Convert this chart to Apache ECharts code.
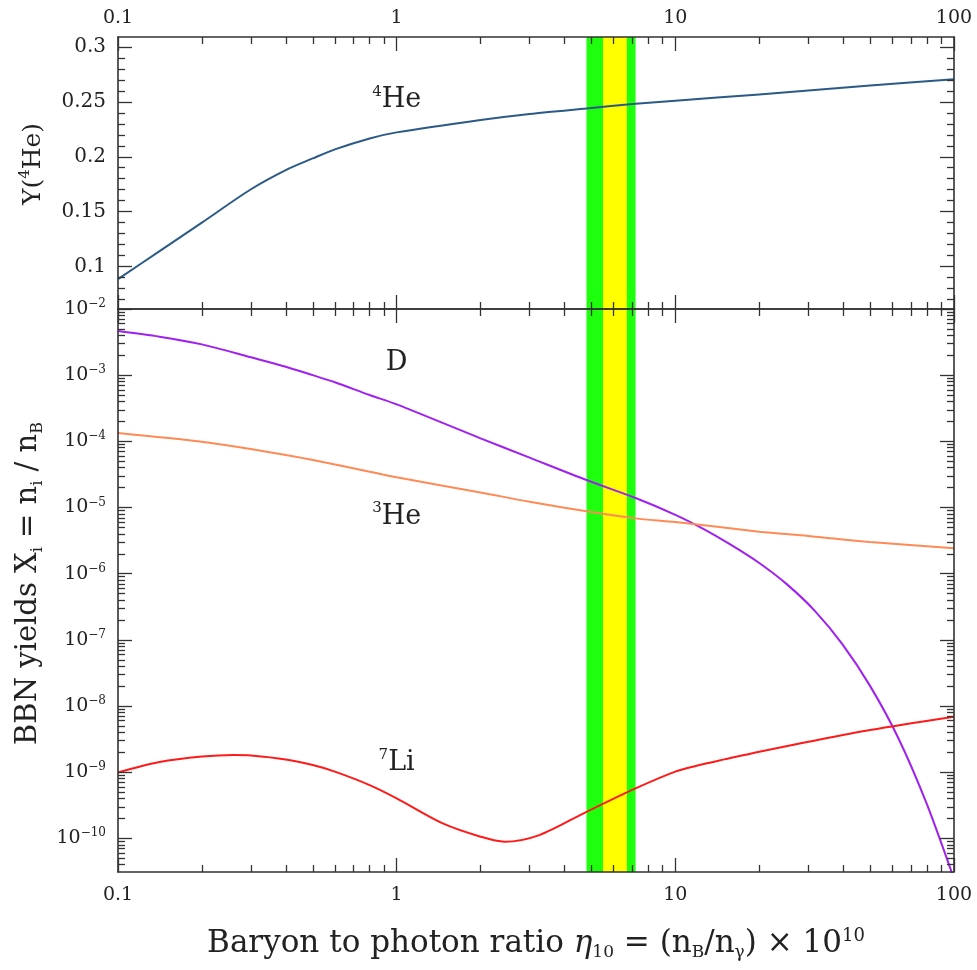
<!DOCTYPE html>
<html><head><meta charset="utf-8">
<script src="https://cdn.jsdelivr.net/npm/echarts@6/dist/echarts.min.js"></script>
<style>html,body{margin:0;padding:0;background:#fff}#c{width:977px;height:970px}</style>
</head><body><div id="c"></div>
<script>
// ---- data ----
const xTickLabels = [0.1, 1, 10, 100];
const he4TickLabels = [0.1, 0.15, 0.2, 0.25, 0.3];
const yieldTickLabels = [1e-2, 1e-3, 1e-4, 1e-5, 1e-6, 1e-7, 1e-8, 1e-9, 1e-10];

const he4X = [0.1, 0.141, 0.2, 0.3, 0.4, 0.5, 0.6, 0.8, 1, 2, 3, 4.8, 7.2, 10, 20, 30, 50, 100];
const he4Y = [0.0885, 0.1140, 0.1400, 0.1704, 0.1879, 0.1985, 0.2067, 0.2167, 0.2222, 0.2335, 0.2390, 0.2440, 0.2482, 0.2510, 0.2568, 0.2604, 0.2649, 0.2706];

const dX = [0.1, 0.141, 0.2, 0.3, 0.4, 0.5, 0.6, 0.8, 1, 2, 3, 4.8, 7.2, 10, 12.6, 15.8, 20, 25.1, 31.6, 39.8, 50.1, 63.1, 79.4, 100];
const dY = [4.65e-3, 3.82e-3, 2.92e-3, 1.86e-3, 1.34e-3, 1.00e-3, 7.80e-4, 5.01e-4, 3.62e-4, 1.11e-4, 5.66e-5, 2.60e-5, 1.39e-5, 7.76e-6, 4.76e-6, 2.74e-6, 1.45e-6, 6.95e-7, 2.77e-7, 8.55e-8, 1.98e-8, 3.29e-9, 3.52e-10, 2.44e-11];

const he3X = [0.1, 0.2, 0.3, 0.4, 0.5, 0.8, 1, 2, 3, 4.8, 7.2, 10, 20, 30, 50, 100];
const he3Y = [1.34e-4, 9.89e-5, 7.66e-5, 6.21e-5, 5.22e-5, 3.48e-5, 2.86e-5, 1.69e-5, 1.22e-5, 8.75e-6, 6.85e-6, 6.04e-6, 4.31e-6, 3.71e-6, 3.01e-6, 2.42e-6];

const li7X = [0.1, 0.141, 0.2, 0.26, 0.3, 0.4, 0.5, 0.6, 0.8, 1, 1.464, 2, 2.44, 3.25, 4.8, 7.2, 10, 12.2, 15, 20, 30, 50, 100];
const li7Y = [0.99e-9, 1.42e-9, 1.72e-9, 1.82e-9, 1.79e-9, 1.56e-9, 1.28e-9, 1.02e-9, 6.38e-10, 4.02e-10, 1.68e-10, 1.06e-10, 8.9e-11, 1.12e-10, 2.52e-10, 5.69e-10, 1.02e-9, 1.28e-9, 1.56e-9, 2.04e-9, 2.88e-9, 4.34e-9, 6.89e-9];

const bandOuter = [4.8, 7.2];
const bandInner = [5.5, 6.7];

// ---- styling / helpers ----
const FONT = 'DejaVu Serif';
const AX = '#333333';
const TXT = '#222222';

function zip(xs, ys) { return xs.map((x, i) => [x, ys[i]]); }
function minorLog(lo, hi) {
  const out = [];
  for (let e = Math.floor(Math.log10(lo)) - 1; e <= Math.ceil(Math.log10(hi)); e++) {
    for (let k = 2; k <= 9; k++) {
      const v = k * Math.pow(10, e);
      if (v > lo * 1.0001 && v < hi * 0.9999) out.push(v);
    }
  }
  return out;
}
function minorLin(lo, hi, step, majors) {
  const out = [];
  for (let v = Math.ceil(lo / step) * step; v <= hi + 1e-9; v += step) {
    const r = Math.round(v * 1000) / 1000;
    if (!majors.some(m => Math.abs(m - r) < 1e-6)) out.push(r);
  }
  return out;
}

const X_MIN = 0.1, X_MAX = 100;
const HE_MIN = 0.0613, HE_MAX = 0.3091;
const Y_MIN = 3.1e-11, Y_MAX = 1e-2;

const xMinor = minorLog(X_MIN, X_MAX);
const heMinor = minorLin(HE_MIN, HE_MAX, 0.01, he4TickLabels);
const yMinor = minorLog(Y_MIN, Y_MAX);

const supRich = {
  b: { fontFamily: FONT, fontSize: 19, color: TXT, lineHeight: 22 },
  s: { fontFamily: FONT, fontSize: 12, color: TXT, lineHeight: 12, verticalAlign: 'top' }
};

function mkAxis(grid, pos, type, min, max, ticks, len, o) {
  o = o || {};
  const a = {
    type: type, gridIndex: grid, position: pos, min: min, max: max, z: 5,
    silent: true,
    axisLine: { show: !!o.line, onZero: false, lineStyle: { color: AX, width: 1.6 } },
    axisTick: { show: true, inside: true, length: len, customValues: ticks, lineStyle: { color: AX, width: 1.3 } },
    axisLabel: { show: false },
    splitLine: { show: false },
    minorTick: { show: false },
    minorSplitLine: { show: false }
  };
  if (type === 'log') a.logBase = 10;
  if (o.labels) {
    a.axisLabel = Object.assign({
      show: true, customValues: o.labels, margin: o.margin || 10,
      fontFamily: FONT, fontSize: 19, color: TXT, showMinLabel: true, showMaxLabel: true,
      hideOverlap: false
    }, o.labelExtra || {});
  }
  if (o.name) Object.assign(a, o.name);
  return a;
}

const xFmt = v => (v < 1 ? String(Math.round(v * 10) / 10) : String(Math.round(v)));
const expFmt = v => '{b|10}{s|\u2212' + Math.round(-Math.log10(v)) + '}';

const xAxes = [
  // grid 0 (top panel)
  mkAxis(0, 'bottom', 'log', X_MIN, X_MAX, xTickLabels, 14, { line: true }),
  mkAxis(0, 'bottom', 'log', X_MIN, X_MAX, xMinor, 7, {}),
  mkAxis(0, 'top', 'log', X_MIN, X_MAX, xTickLabels, 14, { line: true, labels: xTickLabels, margin: 9, labelExtra: { formatter: xFmt } }),
  mkAxis(0, 'top', 'log', X_MIN, X_MAX, xMinor, 7, {}),
  // grid 1 (bottom panel)
  mkAxis(1, 'bottom', 'log', X_MIN, X_MAX, xTickLabels, 14, {
    line: true, labels: xTickLabels, margin: 14, labelExtra: { formatter: xFmt },
    name: {
      name: '{a|Baryon to photon ratio }{g|\u03b7}{b|10}{a| = (n}{b|B}{a|/n}{b|\u03b3}{a|) \u00d7 10}{s|10}',
      nameLocation: 'middle', nameGap: 55,
      nameTextStyle: {
        rich: {
          a: { fontFamily: FONT, fontSize: 31, color: TXT, lineHeight: 34 },
          g: { fontFamily: FONT, fontSize: 31, fontStyle: 'italic', color: TXT, lineHeight: 34 },
          b: { fontFamily: FONT, fontSize: 17, color: TXT, lineHeight: 20, verticalAlign: 'bottom' },
          s: { fontFamily: FONT, fontSize: 18, color: TXT, lineHeight: 20, verticalAlign: 'top' }
        }
      }
    }
  }),
  mkAxis(1, 'bottom', 'log', X_MIN, X_MAX, xMinor, 7, {}),
  mkAxis(1, 'top', 'log', X_MIN, X_MAX, xTickLabels, 14, { line: true }),
  mkAxis(1, 'top', 'log', X_MIN, X_MAX, xMinor, 7, {})
];

const yAxes = [
  // grid 0
  mkAxis(0, 'left', 'value', HE_MIN, HE_MAX, he4TickLabels, 14, {
    line: true, labels: he4TickLabels, margin: 12, labelExtra: { fontSize: 20 },
    name: {
      name: '{a|Y(}{s|4}{a|He)}',
      nameLocation: 'middle', nameGap: 70,
      nameTextStyle: {
        padding: [0, 0, 0, 18],
        rich: {
          a: { fontFamily: FONT, fontSize: 25, color: TXT, lineHeight: 30 },
          s: { fontFamily: FONT, fontSize: 15, color: TXT, lineHeight: 18, verticalAlign: 'top' }
        }
      }
    }
  }),
  mkAxis(0, 'left', 'value', HE_MIN, HE_MAX, heMinor, 7, {}),
  mkAxis(0, 'right', 'value', HE_MIN, HE_MAX, he4TickLabels, 14, { line: true }),
  mkAxis(0, 'right', 'value', HE_MIN, HE_MAX, heMinor, 7, {}),
  // grid 1
  mkAxis(1, 'left', 'log', Y_MIN, Y_MAX, yieldTickLabels, 14, {
    line: true, labels: yieldTickLabels, margin: 12,
    labelExtra: { formatter: expFmt, rich: supRich },
    name: {
      name: '{a|BBN yields X}{b|i}{a| = n}{b|i}{a| / n}{b|B}',
      nameLocation: 'middle', nameGap: 70,
      nameTextStyle: {
        padding: [0, 0, 0, 14],
        rich: {
          a: { fontFamily: FONT, fontSize: 29, color: TXT, lineHeight: 34 },
          b: { fontFamily: FONT, fontSize: 16, color: TXT, lineHeight: 20, verticalAlign: 'bottom' }
        }
      }
    }
  }),
  mkAxis(1, 'left', 'log', Y_MIN, Y_MAX, yMinor, 7, {}),
  mkAxis(1, 'right', 'log', Y_MIN, Y_MAX, yieldTickLabels, 14, { line: true }),
  mkAxis(1, 'right', 'log', Y_MIN, Y_MAX, yMinor, 7, {})
];

function band(outer, inner) {
  return {
    silent: true,
    label: { show: false },
    data: [
      [{ xAxis: outer[0], itemStyle: { color: '#1eff0e', opacity: 1 } }, { xAxis: outer[1] }],
      [{ xAxis: inner[0], itemStyle: { color: '#ffff00', opacity: 1 } }, { xAxis: inner[1] }]
    ]
  };
}

function annot(coord, text, rich) {
  return {
    silent: true,
    symbol: 'rect', symbolSize: 1,
    itemStyle: { color: 'rgba(0,0,0,0)' },
    label: { show: true, position: 'inside', formatter: text, rich: rich },
    data: [{ coord: coord, value: 0 }]
  };
}
const annRich = {
  a: { fontFamily: FONT, fontSize: 27, color: TXT, lineHeight: 32 },
  s: { fontFamily: FONT, fontSize: 15, color: TXT, lineHeight: 18, verticalAlign: 'top' }
};

function lineSeries(name, xi, yi, xs, ys, color, extra) {
  return Object.assign({
    type: 'line', name: name, xAxisIndex: xi, yAxisIndex: yi,
    data: zip(xs, ys), showSymbol: false, symbol: 'none', smooth: 0.3,
    lineStyle: { color: color, width: 2 }, itemStyle: { color: color },
    clip: true, z: 3
  }, extra || {});
}

const option = {
  backgroundColor: '#ffffff',
  animation: false,
  grid: [
    { left: 118, width: 836, top: 37, height: 272, containLabel: false },
    { left: 118, width: 836, top: 309, height: 563, containLabel: false }
  ],
  xAxis: xAxes,
  yAxis: yAxes,
  series: [
    lineSeries('4He', 0, 0, he4X, he4Y, '#2a5a85', {
      markArea: band(bandOuter, bandInner),
      markPoint: annot([1.0, 0.2515], '{s|4}{a|He}', annRich)
    }),
    lineSeries('D', 4, 4, dX, dY, '#a020f0', {
      markArea: band(bandOuter, bandInner),
      markPoint: annot([1.0, 1.53e-3], '{a|D}', annRich)
    }),
    lineSeries('3He', 4, 4, he3X, he3Y, '#ff8a55', {
      markPoint: annot([1.0, 7.2e-6], '{s|3}{a|He}', annRich)
    }),
    lineSeries('7Li', 4, 4, li7X, li7Y, '#ff1a1a', {
      markPoint: annot([1.0, 1.37e-9], '{s|7}{a|Li}', annRich)
    })
  ]
};

const chart = echarts.init(document.getElementById('c'), null, { renderer: 'canvas' });
chart.setOption(option);
</script>
</body></html>
